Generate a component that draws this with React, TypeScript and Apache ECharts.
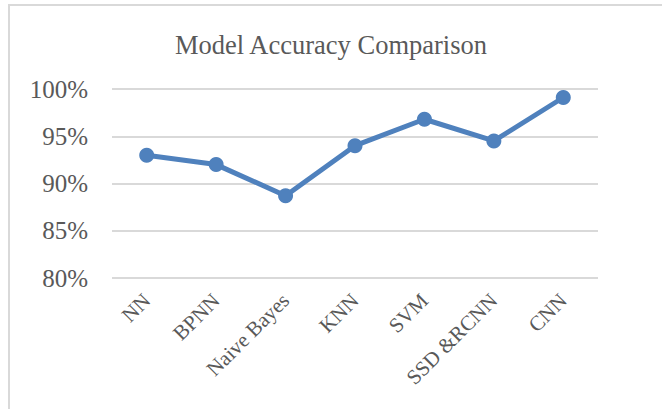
import React, { useEffect, useRef } from "react";
import * as echarts from "echarts";

const categories = ["NN", "BPNN", "Naive Bayes", "KNN", "SVM", "SSD &RCNN", "CNN"];
const accuracy = [93.0, 92.0, 88.7, 94.0, 96.8, 94.5, 99.1];
const yTicks = { min: 80, max: 100, interval: 5 };

const FONT = "'Liberation Serif', 'Times New Roman', serif";
const TEXT = "#595959";

export default function App() {
  const ref = useRef<HTMLDivElement>(null);
  useEffect(() => {
    if (!ref.current) return;
    const chart = echarts.init(ref.current, undefined, { renderer: "svg" });
    chart.setOption({
      animation: false,
      backgroundColor: "#ffffff",
      title: {
        text: "Model Accuracy Comparison",
        left: "center",
        top: 26,
        textStyle: { fontFamily: FONT, fontSize: 26.5, fontWeight: "normal", color: TEXT },
      },
      graphic: [
        {
          type: "rect",
          shape: { x: 9, y: 5, width: 720, height: 500 },
          style: { fill: "none", stroke: "#d9d9d9", lineWidth: 2 },
          silent: true,
        },
      ],
      grid: { left: 112, right: 64, top: 89, bottom: 131 },
      xAxis: {
        type: "category",
        data: categories,
        boundaryGap: true,
        axisLine: { show: false },
        axisTick: { show: false },
        axisLabel: {
          rotate: 45,
          interval: 0,
          margin: 19,
          fontFamily: FONT,
          fontSize: 21,
          color: TEXT,
        },
      },
      yAxis: {
        type: "value",
        min: yTicks.min,
        max: yTicks.max,
        interval: yTicks.interval,
        axisLine: { show: false },
        axisTick: { show: false },
        splitLine: { lineStyle: { color: "#d9d9d9", width: 2 } },
        axisLabel: {
          formatter: "{value}%",
          margin: 24,
          fontFamily: FONT,
          fontSize: 25,
          color: TEXT,
        },
      },
      series: [
        {
          type: "line",
          data: accuracy,
          symbol: "circle",
          symbolSize: 15,
          lineStyle: { color: "#4f81bd", width: 5 },
          itemStyle: { color: "#4f81bd" },
        },
      ],
    });
    return () => chart.dispose();
  }, []);
  return (
    <div
      ref={ref}
      style={{ position: "fixed", left: 0, top: 0, width: 662, height: 409 }}
    />
  );
}
